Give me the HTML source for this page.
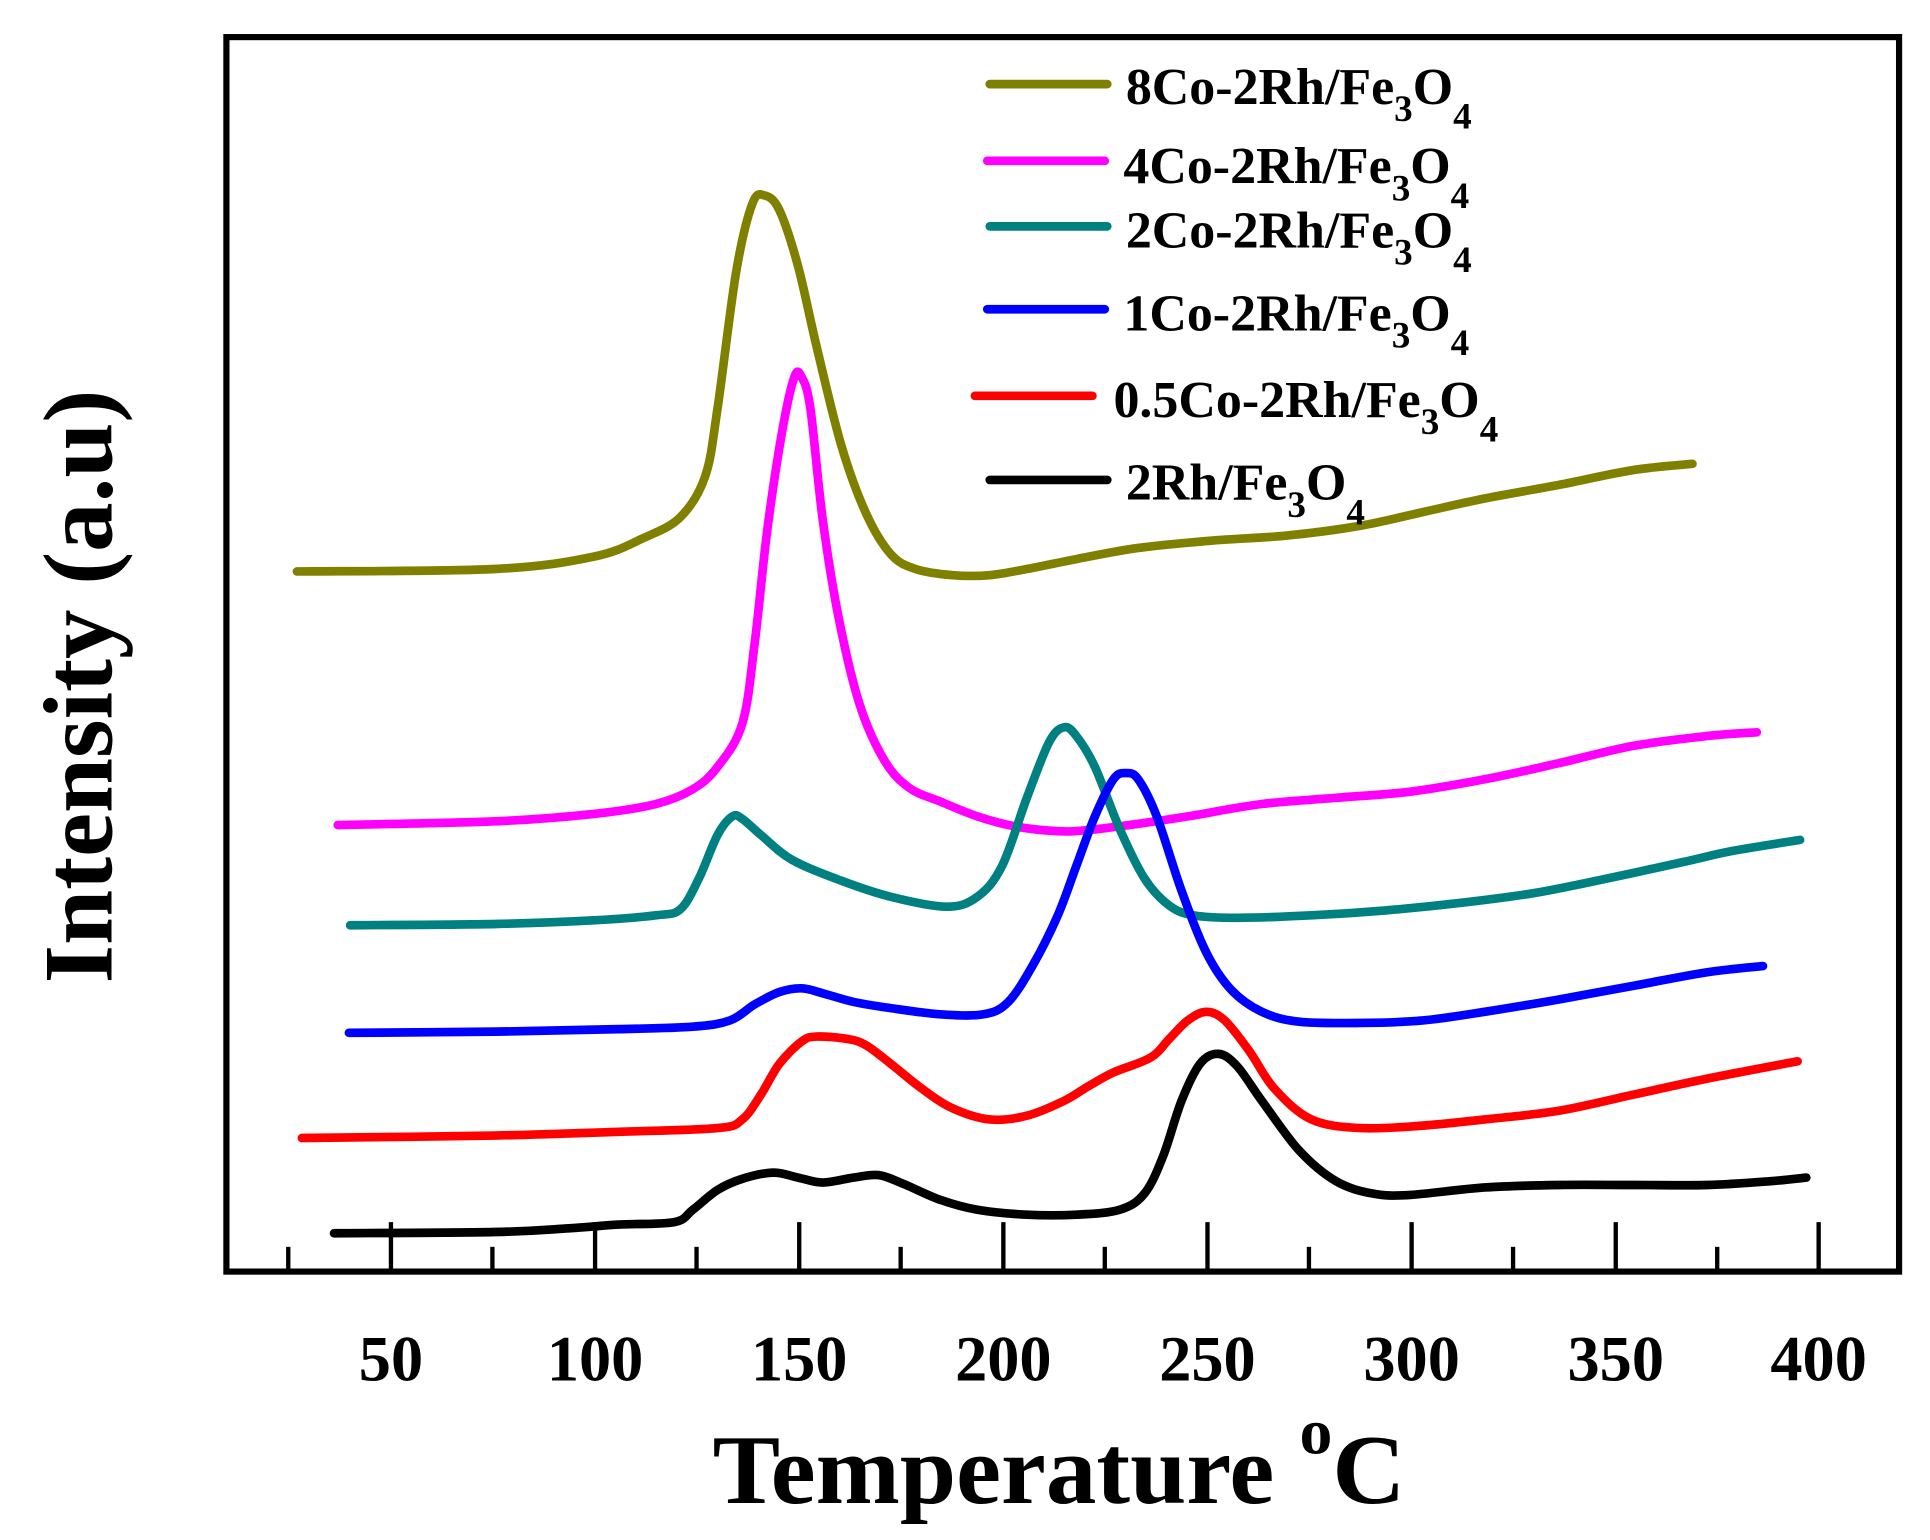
<!DOCTYPE html>
<html><head><style>html,body{margin:0;padding:0;background:#fff}svg{display:block}</style></head>
<body>
<svg id="c" width="1930" height="1540" viewBox="0 0 1560 1245" preserveAspectRatio="none" xmlns="http://www.w3.org/2000/svg" font-family="'Liberation Serif', serif" font-weight="bold">
<rect x="183" y="30" width="1352" height="998" fill="none" stroke="#000" stroke-width="5"/>
<g stroke="#000" stroke-width="3.5">
<line x1="233" y1="1028" x2="233" y2="1008"/><line x1="316" y1="1028" x2="316" y2="988"/>
<line x1="398" y1="1028" x2="398" y2="1008"/><line x1="481" y1="1028" x2="481" y2="988"/>
<line x1="563" y1="1028" x2="563" y2="1008"/><line x1="646" y1="1028" x2="646" y2="988"/>
<line x1="728" y1="1028" x2="728" y2="1008"/><line x1="811" y1="1028" x2="811" y2="988"/>
<line x1="893" y1="1028" x2="893" y2="1008"/><line x1="976" y1="1028" x2="976" y2="988"/>
<line x1="1058" y1="1028" x2="1058" y2="1008"/><line x1="1141" y1="1028" x2="1141" y2="988"/>
<line x1="1223" y1="1028" x2="1223" y2="1008"/><line x1="1306" y1="1028" x2="1306" y2="988"/>
<line x1="1388" y1="1028" x2="1388" y2="1008"/><line x1="1470" y1="1028" x2="1470" y2="988"/>
</g>
<g font-size="52" text-anchor="middle">
<text x="316" y="1116">50</text><text x="481" y="1116">100</text><text x="646" y="1116">150</text>
<text x="811" y="1116">200</text><text x="976" y="1116">250</text><text x="1141" y="1116">300</text>
<text x="1306" y="1116">350</text><text x="1470" y="1116">400</text>
</g>
<text x="856" y="1215" font-size="80" text-anchor="middle" textLength="560" lengthAdjust="spacingAndGlyphs">Temperature <tspan font-size="52" dy="-40">o</tspan><tspan dy="40">C</tspan></text>
<text transform="translate(90,555) rotate(-90)" font-size="80" text-anchor="middle" textLength="480" lengthAdjust="spacingAndGlyphs">Intensity (a.u)</text>
<g id="curves" fill="none" stroke-width="7" stroke-linejoin="round" stroke-linecap="round">
<polyline stroke="#808000" points="240,462 400,460 480,450 520,435 550,418 570,385 580,330 595,220 608,165 618,158 630,170 645,215 660,280 680,360 700,415 720,448 740,460 770,465 800,465 830,460 870,452 920,443 980,437 1040,433 1100,425 1150,414 1200,403 1260,392 1320,380 1368,375"/>
<polyline stroke="#ff00ff" points="273,667 400,664 480,658 530,650 560,638 580,620 600,585 610,520 620,430 632,350 642,305 648,305 655,330 665,420 678,500 695,570 715,615 735,637 760,648 790,660 820,668 855,672 880,671 920,666 960,660 1020,650 1080,645 1140,640 1200,630 1260,617 1320,603 1380,595 1420,592"/>
<polyline stroke="#008080" points="283,748 400,747 480,744 530,740 550,735 565,710 580,675 592,660 600,662 615,675 640,695 680,712 720,725 765,733 790,725 810,700 830,645 848,600 860,588 870,595 885,620 905,670 925,710 945,732 965,740 1000,742 1060,740 1120,736 1180,730 1240,722 1300,710 1360,697 1400,688 1455,679"/>
<polyline stroke="#0000ff" points="282,835 400,834 500,832 560,830 590,825 610,812 630,802 648,799 665,803 690,810 720,815 760,820 795,820 815,810 835,780 855,740 870,700 885,660 900,630 910,625 920,630 935,660 955,720 975,770 995,800 1020,818 1050,826 1100,827 1150,825 1200,818 1260,808 1320,797 1380,786 1425,781"/>
<polyline stroke="#ff0000" points="244,920 400,918 500,915 580,912 600,905 615,885 630,860 648,842 660,838 685,840 700,845 720,860 745,880 770,896 800,905 830,902 860,890 880,878 900,867 930,855 945,840 960,825 975,818 990,825 1010,850 1030,880 1060,905 1100,912 1150,910 1200,905 1260,898 1320,885 1380,872 1453,858"/>
<polyline stroke="#000000" points="270,997 400,996 460,993 500,990 545,988 560,978 580,962 600,953 625,948 645,952 665,956 690,952 710,950 730,957 760,970 790,978 830,982 870,982 905,978 925,965 940,935 955,890 970,860 985,852 1000,862 1020,890 1050,930 1080,955 1110,965 1140,966 1200,960 1260,958 1320,958 1380,958 1430,955 1460,952"/>
</g>
<g stroke-width="7" stroke-linecap="round">
<line x1="800" y1="68" x2="895" y2="68" stroke="#808000"/>
<line x1="798" y1="130" x2="893" y2="130" stroke="#ff00ff"/>
<line x1="800" y1="183" x2="895" y2="183" stroke="#008080"/>
<line x1="798" y1="250" x2="893" y2="250" stroke="#0000ff"/>
<line x1="788" y1="320" x2="883" y2="320" stroke="#ff0000"/>
<line x1="800" y1="388" x2="895" y2="388" stroke="#000000"/>
</g>
<g font-size="42">
<text x="910" y="84">8Co-2Rh/Fe<tspan font-size="30" dy="14">3</tspan><tspan dy="-14">O</tspan><tspan font-size="30" dy="20">4</tspan></text>
<text x="908" y="148">4Co-2Rh/Fe<tspan font-size="30" dy="14">3</tspan><tspan dy="-14">O</tspan><tspan font-size="30" dy="20">4</tspan></text>
<text x="910" y="200">2Co-2Rh/Fe<tspan font-size="30" dy="14">3</tspan><tspan dy="-14">O</tspan><tspan font-size="30" dy="20">4</tspan></text>
<text x="908" y="267">1Co-2Rh/Fe<tspan font-size="30" dy="14">3</tspan><tspan dy="-14">O</tspan><tspan font-size="30" dy="20">4</tspan></text>
<text x="900" y="337">0.5Co-2Rh/Fe<tspan font-size="30" dy="14">3</tspan><tspan dy="-14">O</tspan><tspan font-size="30" dy="20">4</tspan></text>
<text x="910" y="404">2Rh/Fe<tspan font-size="30" dy="14">3</tspan><tspan dy="-14">O</tspan><tspan font-size="30" dy="20">4</tspan></text>
</g>
</svg>
<script>
document.querySelectorAll('#curves polyline').forEach(function(pl){
  var p=pl.getAttribute('points').trim().split(/\s+/).map(function(s){return s.split(',').map(Number);});
  var d='M'+p[0][0]+','+p[0][1];
  for(var i=0;i<p.length-1;i++){
    var p0=p[i-1]||p[i],p1=p[i],p2=p[i+1],p3=p[i+2]||p2;
    var c1x=p1[0]+(p2[0]-p0[0])/6,c1y=p1[1]+(p2[1]-p0[1])/6;
    var c2x=p2[0]-(p3[0]-p1[0])/6,c2y=p2[1]-(p3[1]-p1[1])/6;
    d+=' C'+c1x+','+c1y+' '+c2x+','+c2y+' '+p2[0]+','+p2[1];
  }
  var path=document.createElementNS('http://www.w3.org/2000/svg','path');
  path.setAttribute('d',d);path.setAttribute('stroke',pl.getAttribute('stroke'));
  pl.parentNode.replaceChild(path,pl);
});
</script>
</body></html>
